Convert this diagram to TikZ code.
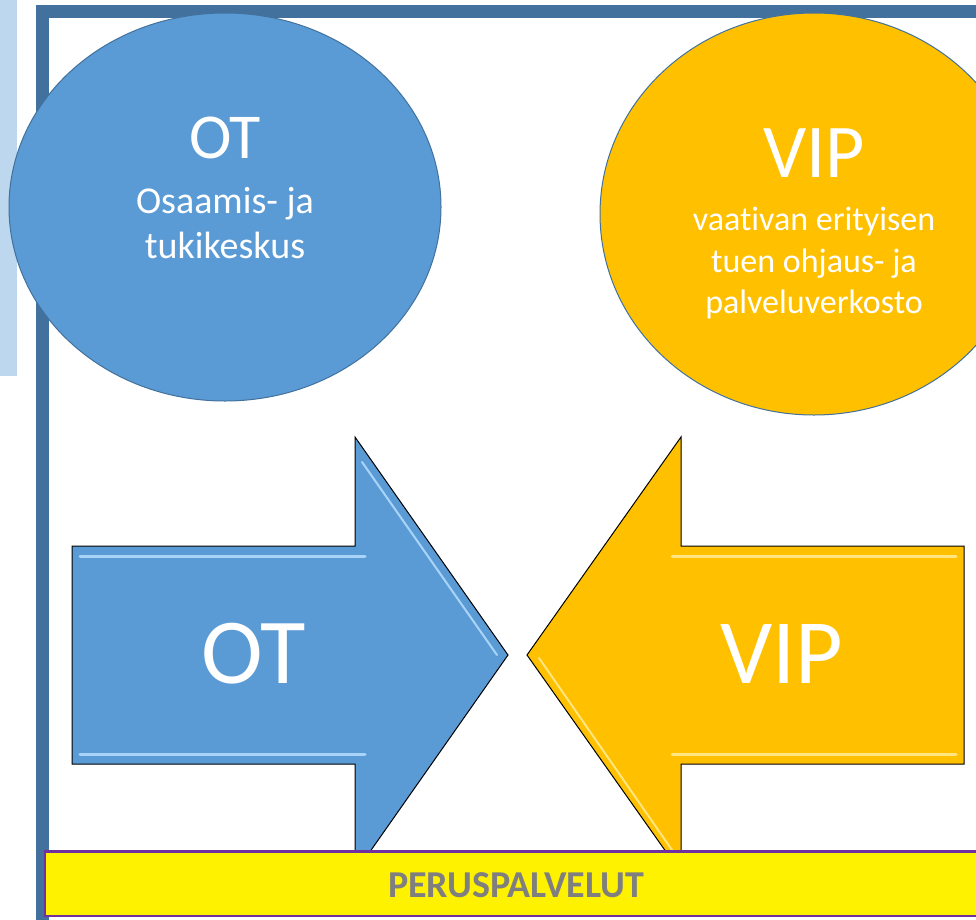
\documentclass[tikz,border=0pt]{standalone}
\usepackage{fontspec}
\setmainfont[Ligatures=NoCommon]{Carlito}
\usetikzlibrary{shapes.geometric}
\definecolor{framebl}{HTML}{41719C}
\definecolor{lightbl}{HTML}{BDD7EE}
\definecolor{otblue}{HTML}{5B9BD5}
\definecolor{vipor}{HTML}{FFC000}
\definecolor{hlblue}{HTML}{A9D4F7}
\definecolor{hlor}{HTML}{FFE680}
\definecolor{bargray}{HTML}{7F7F7F}
\definecolor{barpurple}{HTML}{7030A0}
\tikzset{
  bubble/.style={ellipse, draw=framebl, line width=1pt, inner sep=0pt},
  arrowshape/.style={draw=black, line width=1pt, line join=miter},
  hl/.style={line width=3pt, line cap=round},
  wtext/.style={text=white, inner sep=0pt, anchor=base, align=center},
}
\begin{document}
\begin{tikzpicture}[x=1pt,y=-1pt]
\useasboundingbox (0,0) rectangle (976,919);
\clip (0,0) rectangle (976,919);
% side bar and frame
\fill[lightbl] (0,0) rectangle (17,376);
\draw[framebl, line width=13pt] (42.5,11.5) rectangle (1100,1000);
% ellipses
\node[bubble, fill=otblue, minimum width=432pt, minimum height=388pt] (otcirc) at (225,207) {};
\node[bubble, fill=vipor, minimum width=428pt, minimum height=402pt] (vipcirc) at (814,214) {};
\node[wtext, font=\fontsize{64}{78}\selectfont] (ottitle) at (225,158) {OT};
\node[wtext, font=\fontsize{38}{45}\selectfont] (otsub1) at (225,213) {Osaamis- ja};
\node[wtext, font=\fontsize{38}{45}\selectfont] (otsub2) at (225,258) {tukikeskus};
\node[wtext, font=\fontsize{76}{92}\selectfont] (viptitle) at (814,177) {VIP};
\node[wtext, font=\fontsize{34}{41}\selectfont] (vipsub1) at (814,230) {vaativan erityisen};
\node[wtext, font=\fontsize{34}{41}\selectfont] (vipsub2) at (814,272) {tuen ohjaus- ja};
\node[wtext, font=\fontsize{34}{41}\selectfont] (vipsub3) at (814,313) {palveluverkosto};
% arrows
\draw[arrowshape, fill=otblue] (72,546) -- (355,546) -- (355,437) -- (508,655) -- (355,873) -- (355,764) -- (72,764) -- cycle;
\draw[hlblue, hl] (80,556) -- (365,556);
\draw[hlblue, hl] (80,754) -- (365,754);
\draw[hlblue, hl, line width=2pt] (362,462) -- (497,655);
\draw[arrowshape, fill=vipor] (964,546) -- (681,546) -- (681,437) -- (527,655) -- (681,873) -- (681,764) -- (964,764) -- cycle;
\draw[hlor, hl] (672,556) -- (956,556);
\draw[hlor, hl] (672,754) -- (956,754);
\draw[hlor, hl, line width=2pt] (539,658) -- (672,850);
\node[wtext, font=\fontsize{93}{112}\selectfont] (otarrow) at (254,683) {OT};
\node[wtext, font=\fontsize{92}{110}\selectfont] (viparrow) at (782,683) {VIP};
% base bar
\draw[barpurple, line width=2.5pt, fill=yellow] (45,851.5) rectangle (990,916);
\node[text=bargray, inner sep=0pt, anchor=base, font=\bfseries\fontsize{38}{46}\selectfont] (perus) at (516,897) {PERUSPALVELUT};
\end{tikzpicture}
\end{document}
